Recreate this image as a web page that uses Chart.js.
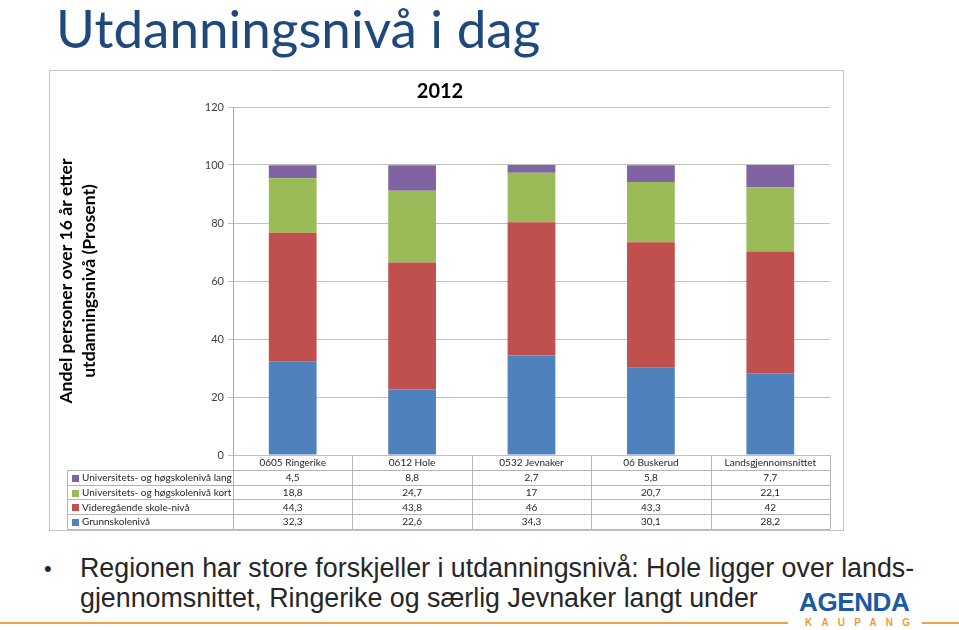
<!DOCTYPE html>
<html lang="no">
<head>
<meta charset="utf-8">
<title>Utdanningsnivå i dag</title>
<script src="https://cdn.jsdelivr.net/npm/chart.js@4.4.1/dist/chart.umd.min.js"></script>
<style>
  html, body { margin: 0; padding: 0; background: #fff; }
  body { width: 959px; height: 630px; position: relative; overflow: hidden; font-family: Lato, sans-serif; }
  #tittel { position: absolute; left: 56px; top: -4px; margin: 0; font-size: 53px; font-weight: normal; color: #1F497D; white-space: nowrap; }
  #boks { position: absolute; left: 49px; top: 70px; width: 793px; height: 459px; border: 1px solid #c4c4c4; }
  #boks canvas { display: block; }
  .punkt { position: absolute; left: 80px; font-family: 'Liberation Sans', Arial, sans-serif; font-size: 26.8px; color: #262626; white-space: nowrap; }
  #kule { position: absolute; left: 44px; top: 556px; font-family: 'Liberation Sans', Arial, sans-serif; font-size: 22px; color: #262626; }
  .strek { position: absolute; top: 622px; height: 2px; background: #F0A045; }
  #agenda { position: absolute; left: 799px; top: 587px; font-family: 'Liberation Sans', Arial, sans-serif; font-weight: bold; font-size: 26px; color: #1B5AA5; letter-spacing: -0.4px; }
  #kaupang { position: absolute; left: 805px; top: 617px; font-family: 'Liberation Sans', Arial, sans-serif; font-weight: bold; font-size: 10px; color: #EE9A3A; letter-spacing: 9.2px; }
</style>
</head>
<body>
<h1 id="tittel">Utdanningsnivå i dag</h1>
<div id="boks"><canvas id="utdanning" width="793" height="459"></canvas></div>
<div id="kule">•</div>
<div class="punkt" style="top:553px">Regionen har store forskjeller i utdanningsnivå: Hole ligger over lands-</div>
<div class="punkt" style="top:583px">gjennomsnittet, Ringerike og særlig Jevnaker langt under</div>
<div class="strek" style="left:0; width:788px"></div>
<div class="strek" style="left:922px; width:37px"></div>
<div id="agenda">AGENDA</div>
<div id="kaupang">KAUPANG</div>

<script>
const kategorier = ['0605 Ringerike', '0612 Hole', '0532 Jevnaker', '06 Buskerud', 'Landsgjennomsnittet'];
const grunnskole = [32.3, 22.6, 34.3, 30.1, 28.2];
const videregaende = [44.3, 43.8, 46, 43.3, 42];
const hoyereKort = [18.8, 24.7, 17, 20.7, 22.1];
const hoyereLang = [4.5, 8.8, 2.7, 5.8, 7.7];
const serienavn = ['Grunnskolenivå', 'Videregående skole-nivå', 'Universitets- og høgskolenivå kort', 'Universitets- og høgskolenivå lang'];
const yTicks = [0, 20, 40, 60, 80, 100, 120];

const farger = ['#4F81BD', '#C0504D', '#9BBB59', '#8064A2'];
const verdier = [grunnskole, videregaende, hoyereKort, hoyereLang];

// tabellen under diagrammet (rekkefølge som i Excel: lang øverst)
const datatabell = {
    id: 'datatabell',
    afterDraw(chart) {
        const { ctx, chartArea } = chart;
        const x = chart.scales.x;
        const steg = x.getPixelForValue(1) - x.getPixelForValue(0);
        const venstre = 17;
        const radH = 14.8;
        const topp = chartArea.bottom;
        const hoyre = chartArea.right;
        const bunn = topp + radH * 5;

        ctx.save();
        ctx.strokeStyle = '#b5b5b5';
        ctx.lineWidth = 1;
        ctx.beginPath();
        for (let r = 1; r <= 5; r++) {
            const y = Math.round(topp + r * radH) + 0.5;
            ctx.moveTo(venstre, y);
            ctx.lineTo(hoyre, y);
        }
        for (let i = 0; i <= kategorier.length; i++) {
            const xx = Math.round(x.getPixelForValue(i) - steg / 2) + 0.5;
            ctx.moveTo(xx, topp);
            ctx.lineTo(xx, bunn);
        }
        ctx.moveTo(venstre + 0.5, Math.round(topp + radH));
        ctx.lineTo(venstre + 0.5, bunn);
        ctx.stroke();

        ctx.font = '10px Lato';
        ctx.fillStyle = '#262626';
        ctx.textBaseline = 'middle';
        ctx.textAlign = 'center';
        kategorier.forEach((k, i) => {
            ctx.fillText(k, x.getPixelForValue(i), topp + radH / 2 + 0.5);
        });

        for (let r = 0; r < 4; r++) {
            const s = 3 - r;
            const yMid = topp + radH * (r + 1) + radH / 2 + 0.5;
            ctx.fillStyle = farger[s];
            ctx.fillRect(venstre + 5, Math.round(yMid) - 3, 7, 7);
            ctx.fillStyle = '#262626';
            ctx.textAlign = 'left';
            ctx.fillText(serienavn[s], venstre + 15, yMid);
            ctx.textAlign = 'center';
            verdier[s].forEach((v, i) => {
                ctx.fillText(String(v).replace('.', ','), x.getPixelForValue(i), yMid);
            });
        }
        ctx.restore();
    }
};

new Chart(document.getElementById('utdanning'), {
    type: 'bar',
    data: {
        labels: kategorier,
        datasets: serienavn.map((navn, i) => ({
            label: navn,
            data: verdier[i],
            backgroundColor: farger[i],
            borderWidth: 0,
            categoryPercentage: 1,
            barPercentage: 0.4
        }))
    },
    options: {
        responsive: false,
        animation: false,
        layout: { padding: { left: 0, right: 13, top: 0, bottom: 75 } },
        plugins: {
            legend: { display: false },
            tooltip: { enabled: false },
            title: {
                display: true,
                text: '2012',
                color: '#000',
                font: { family: 'Lato', size: 20, weight: 'bold' },
                padding: { top: 9, bottom: 3 }
            }
        },
        scales: {
            x: { stacked: true, display: false },
            y: {
                stacked: true,
                min: 0,
                max: 120,
                afterBuildTicks: s => { s.ticks = yTicks.map(v => ({ value: v })); },
                ticks: { color: '#404040', font: { family: 'Lato', size: 11 }, padding: 4 },
                grid: { color: '#c0c0c0', tickLength: 5 },
                border: { color: '#a8a8a8' },
                title: {
                    display: true,
                    text: ['Andel personer over 16 år etter', 'utdanningsnivå (Prosent)'],
                    color: '#000',
                    font: { family: 'Lato', size: 17.6, weight: 'bold', lineHeight: 1.3 },
                    padding: { top: 5, bottom: 0 }
                },
                afterFit: s => { s.width = 183; }
            }
        }
    },
    plugins: [datatabell]
});
</script>
</body>
</html>
